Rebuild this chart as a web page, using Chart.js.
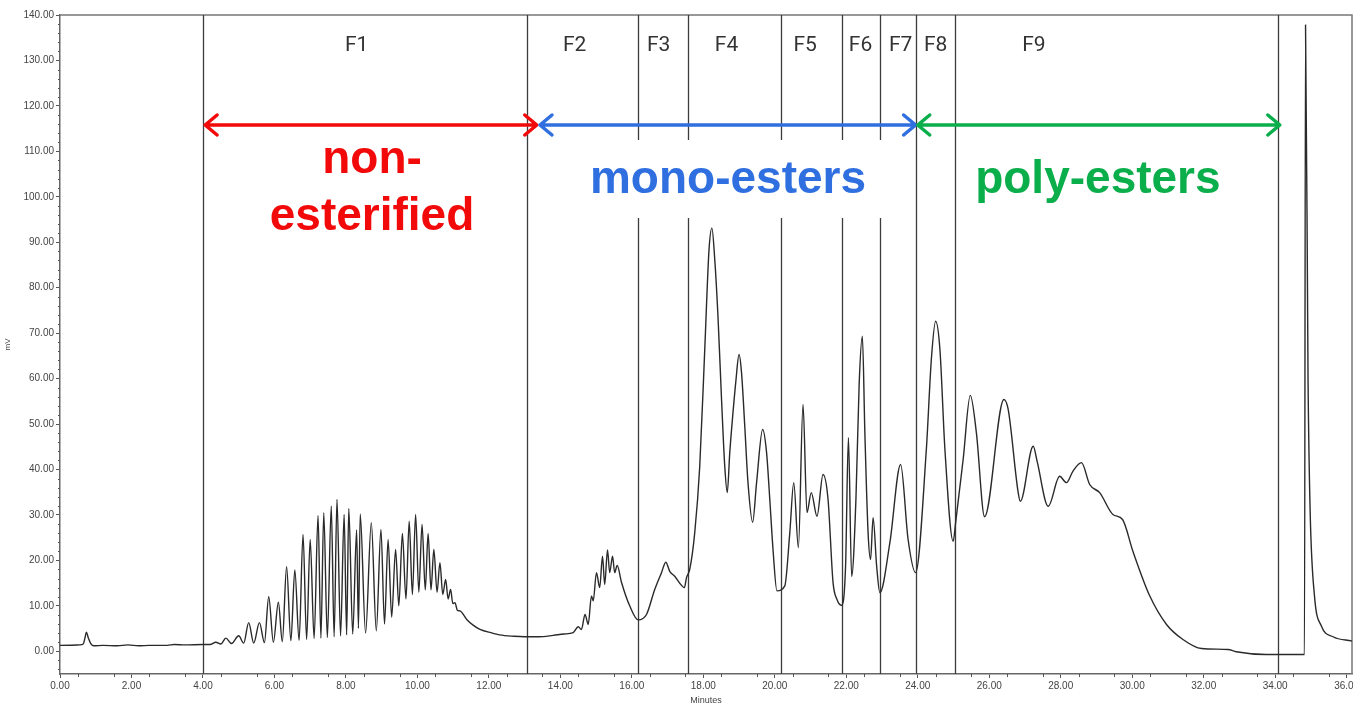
<!DOCTYPE html>
<html>
<head>
<meta charset="utf-8">
<script src="https://cdn.jsdelivr.net/npm/chart.js@4.4.0/dist/chart.umd.min.js"></script>
<style>
  html, body { margin: 0; padding: 0; overflow: hidden; background: #fff; }
  #wrap { width: 1400px; height: 712px; }
</style>
</head>
<body>
<div id="wrap"><canvas id="chart" width="1400" height="712"></canvas></div>
<script>
// chromatogram trace (minutes, mV)
const minutes = [
  0.00, 0.55, 0.65, 0.70, 0.74, 0.79, 0.86, 0.95, 1.20, 1.60, 1.90, 2.20, 2.50, 3.00, 3.20, 3.50, 4.00,
  4.20, 4.36, 4.50, 4.64, 4.80, 5.00, 5.14, 5.28, 5.42, 5.58, 5.72, 5.84, 5.97, 6.11, 6.22, 6.34, 6.46, 6.57,
  6.69, 6.80, 6.90, 7.00, 7.11, 7.22, 7.30, 7.38, 7.48, 7.59, 7.67, 7.75, 7.85, 7.95, 8.02, 8.08, 8.19, 8.30,
  8.35, 8.40, 8.55, 8.71, 8.85, 8.98, 9.08, 9.18, 9.28, 9.39, 9.48, 9.58, 9.68, 9.77, 9.86, 9.95, 10.04, 10.13,
  10.22, 10.30, 10.38, 10.46, 10.55, 10.63, 10.71, 10.79, 10.86, 10.93, 10.99, 11.05, 11.12, 11.19, 11.38, 11.55,
  11.75, 12.10, 12.30, 12.70, 13.00, 13.40, 13.80, 14.10, 14.36, 14.50, 14.59, 14.69, 14.78, 14.87, 14.92, 15.01,
  15.10, 15.18, 15.24, 15.32, 15.38, 15.46, 15.52, 15.59, 15.71, 15.94, 16.18, 16.41, 16.64, 16.83, 16.95, 17.06,
  17.20, 17.39, 17.47, 17.53, 17.62, 17.76, 17.90, 18.04, 18.16, 18.24, 18.32, 18.41, 18.51, 18.60, 18.67, 18.74,
  18.83, 18.91, 19.00, 19.07, 19.16, 19.25, 19.38, 19.49, 19.66, 19.77, 19.86, 19.95, 20.06, 20.28, 20.42, 20.53,
  20.66, 20.79, 20.90, 21.02, 21.18, 21.35, 21.49, 21.63, 21.74, 21.87, 21.98, 22.06, 22.15, 22.27, 22.36, 22.45,
  22.52, 22.61, 22.68, 22.75, 22.85, 22.94, 23.22, 23.52, 23.73, 23.94, 24.24, 24.38, 24.50, 24.62, 24.76, 24.99,
  25.06, 25.27, 25.47, 25.64, 25.87, 26.41, 26.53, 26.81, 26.87, 27.23, 27.34, 27.65, 27.97, 28.16, 28.34, 28.58,
  28.81, 29.09, 29.46, 29.73, 30.02, 30.49, 30.96, 31.42, 31.94, 32.68, 32.91, 33.75, 34.82, 34.85, 34.92, 34.98,
  35.10, 35.29, 35.62, 36.13, 36.20
];
const signal = [
  1.3, 1.4, 1.6, 3.0, 4.2, 3.0, 1.7, 1.2, 1.3, 1.2, 1.4, 1.2, 1.3, 1.3, 1.5, 1.4, 1.5,
  1.5, 2.0, 1.6, 2.9, 1.7, 3.4, 1.8, 6.3, 1.8, 6.3, 1.9, 12.0, 2.0, 10.8, 2.1, 18.6, 2.3, 17.9,
  2.4, 25.7, 2.6, 24.6, 2.8, 29.9, 2.9, 30.5, 3.0, 31.9, 3.2, 33.4, 3.4, 30.1, 3.6, 31.4, 3.8, 26.7,
  5.0, 30.2, 4.0, 28.3, 4.5, 26.8, 6.0, 24.6, 7.5, 22.4, 10.0, 25.9, 11.5, 28.6, 12.5, 30.1, 13.0, 27.9,
  13.5, 25.9, 13.5, 22.4, 13.0, 19.5, 12.5, 15.8, 11.5, 13.6, 10.5, 10.7, 9.0, 8.9, 7.0, 5.8,
  4.8, 4.0, 3.6, 3.3, 3.2, 3.2, 3.5, 3.8, 4.1, 5.4, 4.8, 8.1, 5.9, 12.2, 11.1, 17.3,
  14.0, 20.9, 14.7, 22.3, 17.3, 20.9, 17.3, 18.9, 15.2, 10.0, 6.9, 8.1, 13.6, 17.3, 19.6, 17.6,
  16.5, 14.5, 14.0, 16.2, 18.0, 26.1, 40.7, 66.4, 88.4, 93.1, 86.2, 73.7, 55.4, 40.7, 34.9, 43.7,
  52.5, 59.4, 65.3, 61.2, 49.5, 37.1, 28.4, 37.1, 48.8, 43.7, 33.4, 22.4, 13.3, 14.4, 26.1, 37.1,
  22.8, 54.3, 30.5, 34.9, 29.7, 38.9, 33.4, 15.1, 11.4, 10.1, 18.7, 47.0, 16.5, 33.4, 58.7, 69.3,
  48.1, 26.1, 20.2, 29.4, 18.7, 12.9, 23.9, 41.1, 24.6, 17.3, 44.4, 64.2, 72.6, 66.4, 44.4, 24.2,
  28.3, 42.2, 56.3, 48.1, 29.6, 55.4, 53.2, 34.9, 33.0, 45.1, 41.8, 31.9, 38.5, 37.1, 39.6, 41.5,
  36.7, 34.9, 30.1, 29.0, 22.0, 12.2, 5.9, 2.6, 0.6, 0.4, -0.1, -0.7, -0.7, 137.8, 59.8, 30.5,
  12.2, 5.6, 3.2, 2.3, 2.2
];

// fraction cut points (minutes) and fraction names
const cutTimes = [4.0, 13.06, 16.17, 17.57, 20.17, 21.87, 22.94, 23.94, 25.03, 34.07];
const fractionNames = ['F1', 'F2', 'F3', 'F4', 'F5', 'F6', 'F7', 'F8', 'F9'];

// ester groups spanned by the arrows
const groupNames = [['non-', 'esterified'], ['mono-esters'], ['poly-esters']];
const groupFrom = [4.06, 13.43, 24.0];
const groupTo = [13.34, 23.94, 34.13];

const xTickValues = [];
for (let v = 0; v <= 36; v += 2) xTickValues.push(v);
const yTickValues = [];
for (let v = 0; v <= 140; v += 10) yTickValues.push(v);

// layout / style for the annotations
const groupColors = ['#f20a0a', '#2f6fe0', '#0aae4a'];
const fractionLabelX = [8.3, 14.4, 16.75, 18.65, 20.85, 22.4, 23.52, 24.5, 27.25];
const groupTextX = [8.73, 18.69, 29.04];
const arrowValue = 115.8;

const annotate = {
  id: 'annotate',
  beforeDatasetsDraw(chart) {
    const { ctx, chartArea: a, scales: { x, y } } = chart;
    ctx.save();

    // top / right frame
    ctx.strokeStyle = '#777';
    ctx.lineWidth = 1.5;
    ctx.beginPath();
    ctx.moveTo(a.left, a.top);
    ctx.lineTo(a.right, a.top);
    ctx.lineTo(a.right, a.bottom);
    ctx.stroke();

    // fraction cut lines
    ctx.strokeStyle = '#3c3c3c';
    ctx.lineWidth = 1.3;
    cutTimes.forEach(t => {
      const px = Math.round(x.getPixelForValue(t)) + 0.5;
      ctx.beginPath();
      ctx.moveTo(px, a.top);
      ctx.lineTo(px, a.bottom);
      ctx.stroke();
    });

    // fraction names
    ctx.fillStyle = '#333';
    ctx.font = '21px Roboto';
    ctx.textAlign = 'center';
    ctx.textBaseline = 'middle';
    fractionNames.forEach((n, i) => {
      ctx.fillText(n, x.getPixelForValue(fractionLabelX[i]), a.top + 31);
    });

    // white box behind "mono-esters"
    ctx.fillStyle = '#fff';
    ctx.fillRect(x.getPixelForValue(14.6), a.top + 125, x.getPixelForValue(23.3) - x.getPixelForValue(14.6), 78);

    // arrows
    const ay = y.getPixelForValue(arrowValue);
    ctx.lineWidth = 3.5;
    ctx.lineCap = 'round';
    ctx.lineJoin = 'round';
    groupFrom.forEach((f, i) => {
      const x1 = x.getPixelForValue(f), x2 = x.getPixelForValue(groupTo[i]);
      ctx.strokeStyle = groupColors[i];
      ctx.beginPath();
      ctx.moveTo(x1, ay); ctx.lineTo(x2, ay);
      ctx.moveTo(x1 + 12, ay - 10); ctx.lineTo(x1, ay); ctx.lineTo(x1 + 12, ay + 10);
      ctx.moveTo(x2 - 12, ay - 10); ctx.lineTo(x2, ay); ctx.lineTo(x2 - 12, ay + 10);
      ctx.stroke();
    });

    // group names
    ctx.font = 'bold 46px "Liberation Sans"';
    groupNames.forEach((lines, i) => {
      ctx.fillStyle = groupColors[i];
      const cx = x.getPixelForValue(groupTextX[i]);
      if (lines.length === 2) {
        ctx.fillText(lines[0], cx, 160);
        ctx.fillText(lines[1], cx, 217);
      } else {
        ctx.fillText(lines[0], cx, 180);
      }
    });
    ctx.restore();
  },
  afterDraw(chart) {
    // minor tick marks on both axes
    const { ctx, chartArea: a, scales: { x, y } } = chart;
    ctx.save();
    ctx.strokeStyle = '#555';
    ctx.lineWidth = 1;
    ctx.beginPath();
    for (let v = 0.5; v <= 36; v += 1) {
      const px = Math.round(x.getPixelForValue(v)) + 0.5;
      ctx.moveTo(px, a.bottom); ctx.lineTo(px, a.bottom + 3);
    }
    for (let v = -4; v <= 140; v += 2) {
      if (v % 10 === 0) continue;
      const py = Math.round(y.getPixelForValue(v)) + 0.5;
      ctx.moveTo(a.left - 2, py); ctx.lineTo(a.left, py);
    }
    ctx.stroke();
    ctx.restore();
  }
};

const tickFont = { family: 'Liberation Sans', size: 10 };

new Chart(document.getElementById('chart'), {
  type: 'line',
  data: {
    datasets: [{
      data: minutes.map((m, i) => ({ x: m, y: signal[i] })),
      borderColor: '#2a2a2a',
      borderWidth: 1.4,
      pointRadius: 0,
      cubicInterpolationMode: 'monotone',
      fill: false
    }]
  },
  options: {
    responsive: false,
    animation: false,
    layout: { padding: { top: 15, right: 48, left: 0, bottom: 0 } },
    plugins: { legend: { display: false }, tooltip: { enabled: false } },
    scales: {
      x: {
        type: 'linear',
        min: 0,
        max: 36.15,
        afterBuildTicks: s => { s.ticks = xTickValues.map(v => ({ value: v })); },
        afterFit: s => { s.height = 38; },
        ticks: {
          autoSkip: false, maxRotation: 0, padding: 2, color: '#444', font: tickFont,
          callback: v => Number(v).toFixed(2)
        },
        grid: { drawOnChartArea: false, tickLength: 4, color: '#555' },
        border: { color: '#666', width: 1.5 },
        title: { display: true, text: 'Minutes', color: '#444', font: { family: 'Liberation Sans', size: 9 }, padding: { top: 0, bottom: 6 } }
      },
      y: {
        min: -5,
        max: 140,
        afterBuildTicks: s => { s.ticks = yTickValues.map(v => ({ value: v })); },
        afterFit: s => { s.width = 60; },
        ticks: {
          autoSkip: false, padding: 2, color: '#444', font: tickFont,
          callback: v => Number(v).toFixed(2)
        },
        grid: { drawOnChartArea: false, tickLength: 4, color: '#555' },
        border: { color: '#666', width: 1.5 },
        title: { display: true, text: 'mV', color: '#444', font: { family: 'Liberation Sans', size: 8 }, padding: { top: 3, bottom: 0 } }
      }
    }
  },
  plugins: [annotate]
});
</script>
</body>
</html>
